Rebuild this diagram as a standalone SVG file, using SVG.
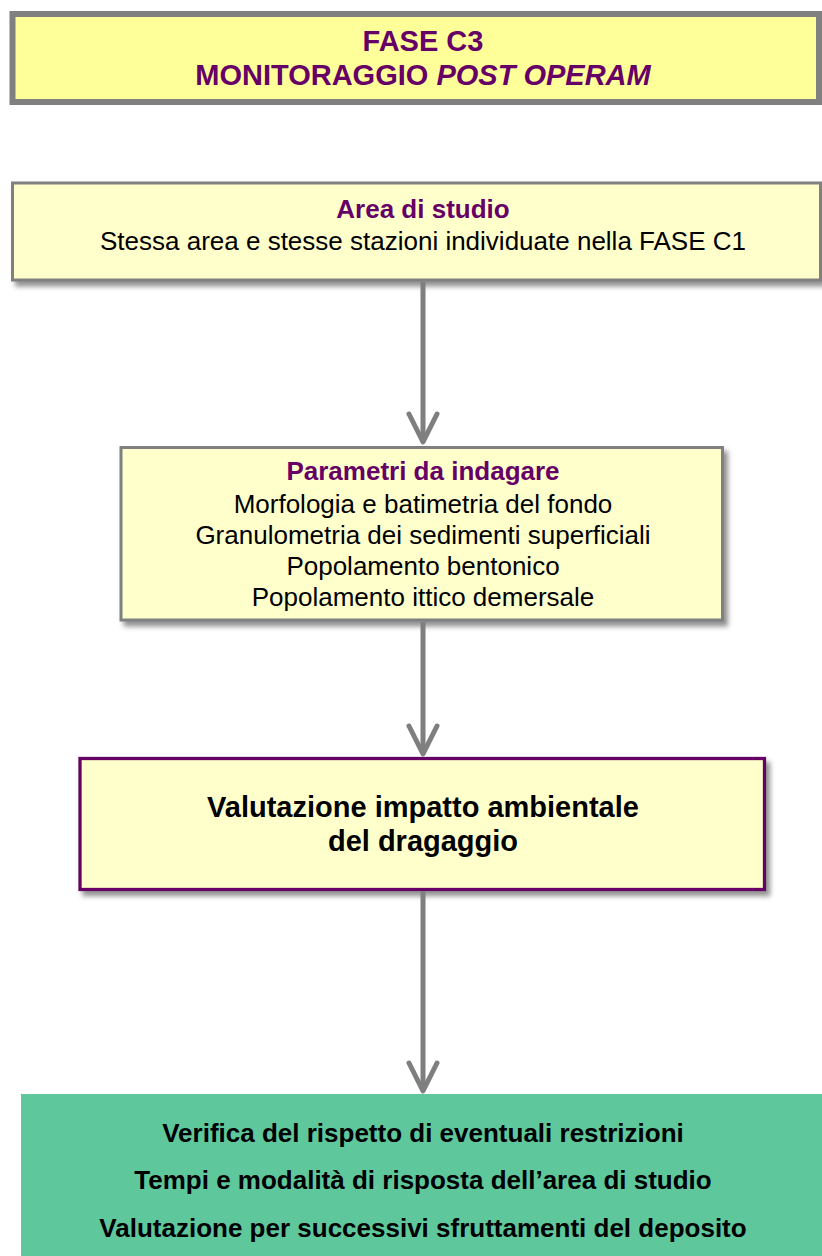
<svg xmlns="http://www.w3.org/2000/svg" width="822" height="1256" viewBox="0 0 822 1256">
  <defs>
    <filter id="shadow" x="-5%" y="-10%" width="115%" height="130%">
      <feDropShadow dx="4" dy="5" stdDeviation="2.5" flood-color="#7f7f7f" flood-opacity="0.85"/>
    </filter>
    <marker id="chev" viewBox="-32 -17 36 34" markerWidth="36" markerHeight="34" refX="0" refY="0" orient="auto" markerUnits="userSpaceOnUse">
      <path d="M-28,-14 L0,0 L-28,14" fill="none" stroke="#7f7f7f" stroke-width="5" stroke-linecap="round" stroke-linejoin="round"/>
    </marker>
  </defs>
  <style>
    .t { font-family: "Liberation Sans", Arial, sans-serif; text-anchor: middle; }
    .title { font-size: 29px; font-weight: bold; fill: #660066; }
    .head { font-size: 26px; font-weight: bold; fill: #660066; }
    .body { font-size: 26px; fill: #000000; }
    .bold29 { font-size: 29px; font-weight: bold; fill: #000000; }
    .bold26 { font-size: 26px; font-weight: bold; fill: #000000; }
    .yel { fill: #ffffcc; stroke: #808080; stroke-width: 3; }
    .conn { stroke: #7f7f7f; stroke-width: 5; fill: none; }
  </style>
  <rect width="822" height="1256" fill="#ffffff"/>

  <g id="node-fase">
    <rect x="12.5" y="14" width="806.5" height="88" fill="#ffff99" stroke="#808080" stroke-width="6"/>
    <text class="t title" x="423" y="51">FASE C3</text>
    <text class="t title" x="423" y="85">MONITORAGGIO <tspan font-style="italic">POST OPERAM</tspan></text>
  </g>

  <g id="node-area">
    <rect class="yel" x="12.5" y="183" width="808" height="97" filter="url(#shadow)"/>
    <text class="t head" x="423" y="218">Area di studio</text>
    <text class="t body" x="423" y="250">Stessa area e stesse stazioni individuate nella FASE C1</text>
  </g>

  <g id="node-parametri">
    <rect class="yel" x="121" y="447.5" width="601.5" height="172.5" filter="url(#shadow)"/>
    <text class="t head" x="423" y="480">Parametri da indagare</text>
    <text class="t body" x="423" y="512.5">Morfologia e batimetria del fondo</text>
    <text class="t body" x="423" y="543.5">Granulometria dei sedimenti superficiali</text>
    <text class="t body" x="423" y="574.5">Popolamento bentonico</text>
    <text class="t body" x="423" y="605.5">Popolamento ittico demersale</text>
  </g>

  <g id="node-valutazione">
    <rect x="80" y="758.5" width="684.5" height="131" fill="#ffffcc" stroke="#660066" stroke-width="3.3" filter="url(#shadow)"/>
    <text class="t bold29" x="423" y="817">Valutazione impatto ambientale</text>
    <text class="t bold29" x="423" y="851">del dragaggio</text>
  </g>

  <g id="node-risultati">
    <rect x="21" y="1094" width="801" height="162" fill="#5ec89c"/>
    <text class="t bold26" x="423" y="1142">Verifica del rispetto di eventuali restrizioni</text>
    <text class="t bold26" x="423" y="1189">Tempi e modalità di risposta dell’area di studio</text>
    <text class="t bold26" x="423" y="1237">Valutazione per successivi sfruttamenti del deposito</text>
  </g>

  <g id="connectors">
    <line class="conn" x1="423" y1="282" x2="423" y2="442" marker-end="url(#chev)"/>
    <line class="conn" x1="423" y1="622" x2="423" y2="754" marker-end="url(#chev)"/>
    <line class="conn" x1="423" y1="891" x2="423" y2="1091" marker-end="url(#chev)"/>
  </g>
</svg>
